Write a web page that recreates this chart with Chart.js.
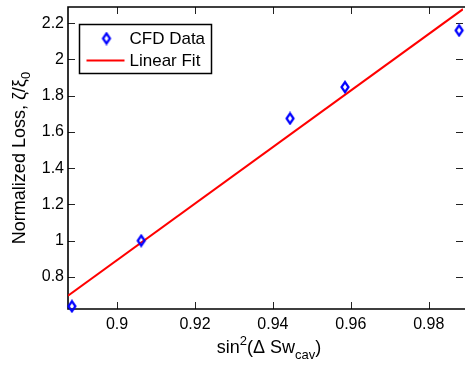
<!DOCTYPE html>
<html>
<head>
<meta charset="utf-8">
<script src="https://cdn.jsdelivr.net/npm/chart.js@4/dist/chart.umd.min.js"></script>
<style>
html,body{margin:0;padding:0;overflow:hidden;background:#fff;width:470px;height:366px;}
canvas{display:block;}
</style>
</head>
<body>
<canvas id="c" width="470" height="366" style="width:470px;height:366px"></canvas>
<script>
// ---- data ----
const cfdX = [0.8884, 0.9062, 0.9444, 0.9585, 0.9878];
const cfdY = [0.638, 1.0, 1.674, 1.847, 2.16];
const fitX = [0.8874, 0.9888];
const fitY = [0.696, 2.277];
const xTicks = [0.9, 0.92, 0.94, 0.96, 0.98];
const xTickLabels = ['0.9', '0.92', '0.94', '0.96', '0.98'];
const yTicks = [0.8, 1.0, 1.2, 1.4, 1.6, 1.8, 2.0, 2.2];
const yTickLabels = ['0.8', '1', '1.2', '1.4', '1.6', '1.8', '2', '2.2'];
const seriesNames = ['CFD Data', 'Linear Fit'];
const xRange = [0.8874, 0.9888];
const yRange = [0.623, 2.289];

const FONT = 'Liberation Sans, Arial, Helvetica, sans-serif';

// diamond marker
function makeDiamond(){
  const c = document.createElement('canvas');
  c.width = 12; c.height = 14;
  const g = c.getContext('2d');
  g.strokeStyle = '#0000ff'; g.lineWidth = 2.2; g.lineJoin = 'miter';
  g.beginPath();
  g.moveTo(6, 2); g.lineTo(9.5, 7); g.lineTo(6, 12); g.lineTo(2.5, 7); g.closePath();
  g.stroke();
  return c;
}
const diamond = makeDiamond();

const framePlugin = {
  id: 'frame',
  beforeDatasetsDraw(chart){
    const {ctx, chartArea: a, scales: {x, y}} = chart;
    ctx.save();
    const L = 7;
    ctx.strokeStyle = '#222'; ctx.lineWidth = 1;
    ctx.beginPath();
    x.ticks.forEach(t => {
      const px = Math.round(x.getPixelForValue(t.value)) + 0.5;
      ctx.moveTo(px, a.bottom); ctx.lineTo(px, a.bottom - L);
      ctx.moveTo(px, a.top); ctx.lineTo(px, a.top + L);
    });
    y.ticks.forEach(t => {
      const py = Math.round(y.getPixelForValue(t.value)) + 0.5;
      ctx.moveTo(a.left, py); ctx.lineTo(a.left + L, py);
      ctx.moveTo(a.right, py); ctx.lineTo(a.right - L, py);
    });
    ctx.stroke();
    // box: left, top, bottom (right edge falls at the window border)
    ctx.strokeStyle = '#000'; ctx.lineWidth = 1.6;
    ctx.beginPath();
    ctx.moveTo(a.right + 2, a.top); ctx.lineTo(a.left, a.top);
    ctx.lineTo(a.left, a.bottom); ctx.lineTo(a.right + 2, a.bottom);
    ctx.stroke();
    ctx.restore();
  },
  afterDatasetsDraw(chart){
    const {ctx, chartArea: a} = chart;
    ctx.save();
    // legend box
    const bx = a.left + 11.5, by = a.top + 17.5, bw = 132, bh = 49;
    ctx.fillStyle = '#fff';
    ctx.fillRect(bx, by, bw, bh);
    ctx.strokeStyle = '#000'; ctx.lineWidth = 1.5;
    ctx.strokeRect(bx, by, bw, bh);
    const ds = chart.data.datasets;
    // entry 1
    ctx.drawImage(diamond, bx + 27 - 6, by + 14 - 7);
    ctx.fillStyle = '#000';
    ctx.font = '17px ' + FONT;
    ctx.textBaseline = 'middle';
    ctx.textAlign = 'left';
    ctx.fillText(ds[0].label, bx + 50, by + 14.5);
    // entry 2
    ctx.strokeStyle = ds[1].borderColor; ctx.lineWidth = 2;
    ctx.beginPath(); ctx.moveTo(bx + 7, by + 36); ctx.lineTo(bx + 45, by + 36); ctx.stroke();
    ctx.fillText(ds[1].label, bx + 50, by + 36.5);
    ctx.restore();
  },
  afterDraw(chart){
    const {ctx, chartArea: a} = chart;
    ctx.save();
    ctx.fillStyle = '#000';
    ctx.textBaseline = 'alphabetic';
    ctx.textAlign = 'left';
    // x title: sin^2(Δ Sw_cav)
    const big = '18px ' + FONT, small = '13px ' + FONT;
    const parts = [
      {t: 'sin', f: big, dy: 0},
      {t: '2', f: small, dy: -8},
      {t: '(\u0394 Sw', f: big, dy: 0},
      {t: 'cav', f: small, dy: 6},
      {t: ')', f: big, dy: 0}
    ];
    let w = 0;
    parts.forEach(p => { ctx.font = p.f; p.w = ctx.measureText(p.t).width; w += p.w; });
    let cx = 269 - w / 2;
    const base = 353;
    parts.forEach(p => { ctx.font = p.f; ctx.fillText(p.t, cx, base + p.dy); cx += p.w; });
    // y title
    const yparts = [
      {t: 'Normalized Loss, \u03B6/\u03BE', f: big, dy: 0},
      {t: '0', f: small, dy: 5}
    ];
    let wy = 0;
    yparts.forEach(p => { ctx.font = p.f; p.w = ctx.measureText(p.t).width; wy += p.w; });
    ctx.translate(25, (a.top + a.bottom) / 2);
    ctx.rotate(-Math.PI / 2);
    let tx = -wy / 2;
    yparts.forEach(p => { ctx.font = p.f; ctx.fillText(p.t, tx, p.dy); tx += p.w; });
    ctx.restore();
  }
};

new Chart(document.getElementById('c'), {
  type: 'scatter',
  data: {
    datasets: [
      {
        label: seriesNames[0],
        data: cfdX.map((v, i) => ({x: v, y: cfdY[i]})),
        pointStyle: diamond,
        pointRadius: 6,
        showLine: false,
        clip: false,
        order: 0
      },
      {
        label: seriesNames[1],
        data: fitX.map((v, i) => ({x: v, y: fitY[i]})),
        showLine: true,
        borderColor: '#ff0000',
        borderWidth: 2,
        pointRadius: 0,
        order: 1
      }
    ]
  },
  options: {
    responsive: false,
    devicePixelRatio: 1,
    animation: false,
    events: [],
    layout: {padding: {top: 4.5, right: 0, left: 0, bottom: 0}},
    plugins: {legend: {display: false}, tooltip: {enabled: false}},
    scales: {
      x: {
        type: 'linear',
        min: xRange[0], max: xRange[1],
        grid: {display: false, drawTicks: false},
        border: {display: false},
        afterBuildTicks: s => { s.ticks = xTicks.map(v => ({value: v})); },
        afterFit: s => { s.height = 57; s.paddingLeft = 0; s.paddingRight = 0; s.paddingTop = 0; s.paddingBottom = 0; },
        ticks: {
          color: '#000', padding: 6,
          font: {family: FONT, size: 16},
          maxRotation: 0, autoSkip: false,
          callback: (v) => { const i = xTicks.findIndex(t => Math.abs(t - v) < 1e-9); return i >= 0 ? xTickLabels[i] : ''; }
        }
      },
      y: {
        type: 'linear',
        min: yRange[0], max: yRange[1],
        grid: {display: false, drawTicks: false},
        border: {display: false},
        afterBuildTicks: s => { s.ticks = yTicks.map(v => ({value: v})); },
        afterFit: s => { s.width = 68; s.paddingLeft = 0; s.paddingRight = 0; s.paddingTop = 0; s.paddingBottom = 0; },
        ticks: {
          color: '#000', padding: 4,
          font: {family: FONT, size: 16},
          autoSkip: false,
          callback: (v) => { const i = yTicks.findIndex(t => Math.abs(t - v) < 1e-9); return i >= 0 ? yTickLabels[i] : ''; }
        }
      }
    }
  },
  plugins: [framePlugin]
});
</script>
</body>
</html>
